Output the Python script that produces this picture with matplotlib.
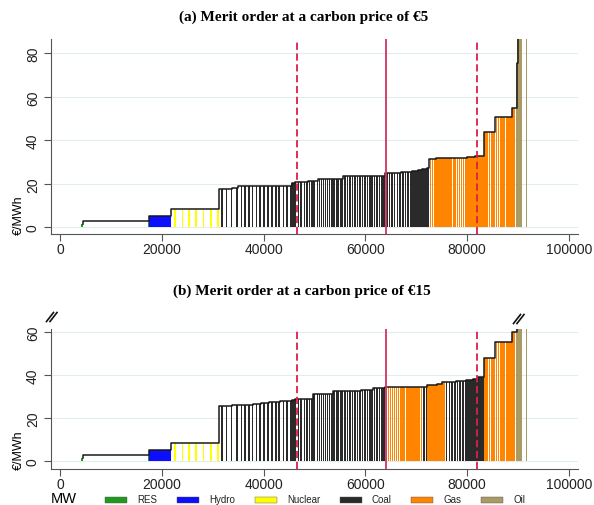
"""Merit order curves of the power plant fleet at two carbon prices."""

import matplotlib

matplotlib.use("Agg")
import matplotlib.pyplot as plt
import pandas as pd
from matplotlib.lines import Line2D
from matplotlib.patches import Rectangle

TECHS = ["RES", "Hydro", "Nuclear", "Coal", "Gas", "Oil"]
TECH_COLORS = ["#1f9a1f", "#0d0dff", "#ffff00", "#2a2a2a", "#ff8400", "#a99a66"]

# Plant capacities (MW) and marginal costs (EUR/MWh) at a carbon price of 5 and 15
RES_MW = [4460, 13040]
RES_EUR5 = [1.5, 2.9]
RES_EUR15 = [1.5, 2.8]

HYDRO_MW = [240, 260, 230, 250, 270, 240, 260, 220, 250, 280, 230, 250, 240, 260, 230, 250, 230]
HYDRO_EUR5 = [5.0, 5.0, 5.0, 5.1, 5.1, 5.1, 5.1, 5.1, 5.1, 5.2, 5.2, 5.2, 5.2, 5.2, 5.2, 5.2, 5.2]
HYDRO_EUR15 = [5.1, 5.1, 5.1, 5.2, 5.2, 5.2, 5.2, 5.2, 5.2, 5.3, 5.3, 5.3, 5.3, 5.3, 5.3, 5.3, 5.3]

NUCLEAR_MW = [1060, 1440, 1310, 1300, 1510, 1440, 1400]
NUCLEAR_EUR5 = [8.3, 8.3, 8.3, 8.3, 8.3, 8.3, 8.3]
NUCLEAR_EUR15 = [8.6, 8.6, 8.6, 8.6, 8.6, 8.6, 8.6]

COAL_MW = [790, 900, 990, 1060, 900, 730, 780, 660, 780, 680, 780, 790, 790, 790, 640, 790, 730, 780,
           220, 210, 210, 200,
           620, 560, 600, 520, 500, 460, 480, 650,
           380, 420, 350, 400, 450, 380, 420, 300, 260, 420, 380, 400, 350,
           520, 480, 500, 450, 520, 480, 460, 500, 470, 520, 480, 450, 460, 500, 480, 450, 480,
           500, 500, 540, 520, 560, 500, 540, 520, 540, 530,
           260, 240, 270, 260, 270, 280, 240, 260, 250, 300, 320, 260, 260]
COAL_EUR5 = [17.6, 17.6, 17.6, 18.2, 18.8, 18.8, 18.8, 18.8, 18.8, 18.85, 18.85, 18.85, 18.9, 18.9,
             18.9, 18.9, 18.9, 19.0,
             20.2, 20.2, 20.2, 21.0,
             21.0, 21.0, 21.0, 21.0, 21.1, 21.1, 21.1, 21.1,
             22.3, 22.3, 22.3, 22.35, 22.35, 22.35, 22.4, 22.4, 22.4, 22.4, 22.4, 22.4, 22.4,
             23.6, 23.6, 23.6, 23.65, 23.65, 23.65, 23.7, 23.7, 23.7, 23.7, 23.7, 23.75, 23.75,
             23.75, 23.8, 23.8, 23.8,
             25.1, 25.1, 25.1, 25.1, 25.15, 25.15, 25.2, 25.2, 25.2, 25.2,
             25.7, 25.7, 25.7, 25.7, 25.7, 26.5, 26.5, 26.5, 26.6, 26.6, 26.6, 27.1, 27.1]
COAL_EUR15 = [25.9, 25.9, 25.9, 26.0, 26.0, 26.1, 26.3, 26.3, 26.4, 26.4, 27.3, 27.3, 27.7, 27.7,
              27.7, 27.8, 27.8, 27.8,
              28.5, 28.5, 28.6, 29.0,
              29.0, 29.0, 29.0, 29.1, 29.1, 29.1, 31.3, 31.3,
              31.3, 31.3, 31.3, 31.3, 31.4, 31.4, 31.4, 32.8, 32.8, 32.8, 32.8, 32.8, 32.8,
              32.8, 32.8, 32.8, 32.9, 32.9, 32.9, 32.9, 33.0, 33.0, 33.0, 33.0, 33.0, 34.1, 34.1,
              34.2, 34.2, 34.2,
              34.5, 34.5, 37.05, 37.05, 37.05, 37.05, 37.1, 37.1, 37.1, 37.2,
              37.7, 37.7, 37.7, 37.8, 37.8, 38.3, 38.3, 38.3, 38.4, 39.0, 39.0, 39.0, 39.1]

GAS_MW = [420, 380, 450, 400, 360, 420, 390, 430, 400, 380, 410, 440, 370, 400, 420, 390, 410, 480,
          240, 220, 250, 230, 240, 220, 230, 250, 230, 240, 220, 300, 240, 290,
          400, 380, 450, 360, 310, 300,
          420, 380, 450, 400, 360, 430, 410, 400,
          380, 350, 370]
GAS_EUR5 = [31.6, 31.6, 31.6, 31.65, 31.65, 31.65, 31.7, 31.7, 31.7, 31.7, 31.7, 31.75, 31.75, 31.75,
            31.75, 31.8, 31.8, 31.8,
            32.2, 32.2, 32.2, 32.2, 32.2, 32.2, 32.2, 32.9, 32.9, 32.9, 32.9, 32.9, 32.9, 32.9,
            43.7, 43.7, 43.7, 43.7, 43.7, 43.7,
            50.6, 50.6, 50.6, 50.6, 50.6, 50.6, 50.6, 50.6,
            54.7, 54.7, 54.7]
GAS_EUR15 = [34.3, 34.3, 34.3, 34.3, 34.35, 34.35, 34.35, 34.35, 34.4, 34.4, 34.4, 34.4, 34.4,
             34.45, 34.45, 34.45, 34.45, 34.45,
             35.5, 35.5, 35.5, 35.5, 35.6, 35.6, 35.6, 35.6, 35.7, 35.7, 35.7, 35.8, 36.9, 37.0,
             47.9, 47.9, 47.9, 47.9, 47.9, 47.9,
             55.6, 55.6, 55.6, 55.6, 55.6, 55.6, 55.6, 55.6,
             60.3, 60.3, 60.3]

OIL_MW = [140, 200, 180, 240, 200, 960]
OIL_EUR5 = [75.4, 95.0, 110.0, 130.0, 150.0, 180.0]
OIL_EUR15 = [86.0, 106.0, 121.0, 141.0, 161.0, 191.0]

# Demand levels marked on the curves (low, mean, high)
DEMAND_MW = [46500, 64000, 82000]

BAR_MW = 300  # drawn width of each plant's bar
W, H = 594, 506
LEGEND_KEY_X = [105, 177, 255, 340, 411, 481]  # pixel position of each legend key


def build_fleet() -> pd.DataFrame:
    parts = [
        ("RES", RES_MW, RES_EUR5, RES_EUR15),
        ("Hydro", HYDRO_MW, HYDRO_EUR5, HYDRO_EUR15),
        ("Nuclear", NUCLEAR_MW, NUCLEAR_EUR5, NUCLEAR_EUR15),
        ("Coal", COAL_MW, COAL_EUR5, COAL_EUR15),
        ("Gas", GAS_MW, GAS_EUR5, GAS_EUR15),
        ("Oil", OIL_MW, OIL_EUR5, OIL_EUR15),
    ]
    frames = [pd.DataFrame({"tech": t, "mw": mw, "eur5": p5, "eur15": p15})
              for t, mw, p5, p15 in parts]
    return pd.concat(frames, ignore_index=True)


def draw_panel(ax, fleet, price_col, ylim, yticks):
    order = fleet.sort_values(price_col, kind="stable")
    cum = order["mw"].cumsum()
    colors = order["tech"].map(dict(zip(TECHS, TECH_COLORS)))
    ax.bar(cum, order[price_col], width=-BAR_MW, align="edge", color=colors, linewidth=0, zorder=2)
    ax.step(cum, order[price_col], where="pre", color="#1a1a1a", lw=1.1, zorder=3)

    for x, ls, col in zip(DEMAND_MW, [(0, (4, 2)), "-", (0, (4, 2))],
                          ["#dc1e4e", "#d23460", "#dc1e4e"]):
        ax.axvline(x, color=col, ls=ls, lw=1.3, zorder=4)

    ax.set_xlim(-1830, 101810)
    ax.set_ylim(*ylim)
    ax.set_xticks([0, 20000, 40000, 60000, 80000, 100000])
    ax.set_yticks(yticks)
    ax.grid(axis="y", color="#e3edf0", lw=0.8)
    ax.set_axisbelow(True)
    for side in ("top", "right"):
        ax.spines[side].set_visible(False)
    for side in ("left", "bottom"):
        ax.spines[side].set_color("#555555")
    ax.tick_params(length=5, color="#555555", labelsize=10, labelcolor="#222222", pad=3)
    ax.tick_params(axis="x", pad=1)
    plt.setp(ax.get_yticklabels(), rotation=90, va="center")
    ax.set_ylabel("€/MWh", loc="bottom", fontsize=9, labelpad=1)


def break_mark(fig, x, y):
    # two short slanted strokes, given in pixels from the top-left corner
    for dx in (0, 3.5):
        fig.add_artist(Line2D([(x + dx) / W, (x + dx + 7) / W], [1 - (y + 4.5) / H, 1 - (y - 4.5) / H],
                              color="#111111", lw=1.2))


def draw_legend(fig):
    y = 1 - 500.5 / H
    for x, tech, color in zip(LEGEND_KEY_X, TECHS, TECH_COLORS):
        fig.add_artist(Rectangle((x / W, y - 3 / H), 22 / W, 6 / H, transform=fig.transFigure,
                                 facecolor=color, edgecolor="#555555", lw=0.3))
        fig.text((x + 32) / W, y, tech, fontsize=7, va="center", ha="left", color="#222222")


def main() -> None:
    plt.rcParams["font.family"] = ["Liberation Sans", "DejaVu Sans"]
    fleet = build_fleet()

    fig = plt.figure(figsize=(W / 100, H / 100), dpi=100)
    ax_a = fig.add_axes([51 / W, 1 - 235 / H, 527 / W, 195 / H])
    ax_b = fig.add_axes([51 / W, 1 - 470 / H, 527 / W, 140 / H])

    draw_panel(ax_a, fleet, "eur5", (-3.1, 86.6), [0, 20, 40, 60, 80])
    draw_panel(ax_b, fleet, "eur15", (-3.6, 61.5), [0, 20, 40, 60])
    ax_b.set_xlabel("MW", loc="left", fontsize=10.5, labelpad=0)

    title_font = dict(ha="center", va="center", fontsize=11, fontweight="bold",
                      family=["Liberation Serif", "DejaVu Serif"])
    fig.text(304 / W, 1 - 17.5 / H, "(a) Merit order at a carbon price of €5", **title_font)
    fig.text(302 / W, 1 - 291.5 / H, "(b) Merit order at a carbon price of €15", **title_font)

    break_mark(fig, 46.5, 318)
    break_mark(fig, 513.5, 320)
    draw_legend(fig)

    fig.savefig("out.png", dpi=100)
    plt.close(fig)


if __name__ == "__main__":
    main()
